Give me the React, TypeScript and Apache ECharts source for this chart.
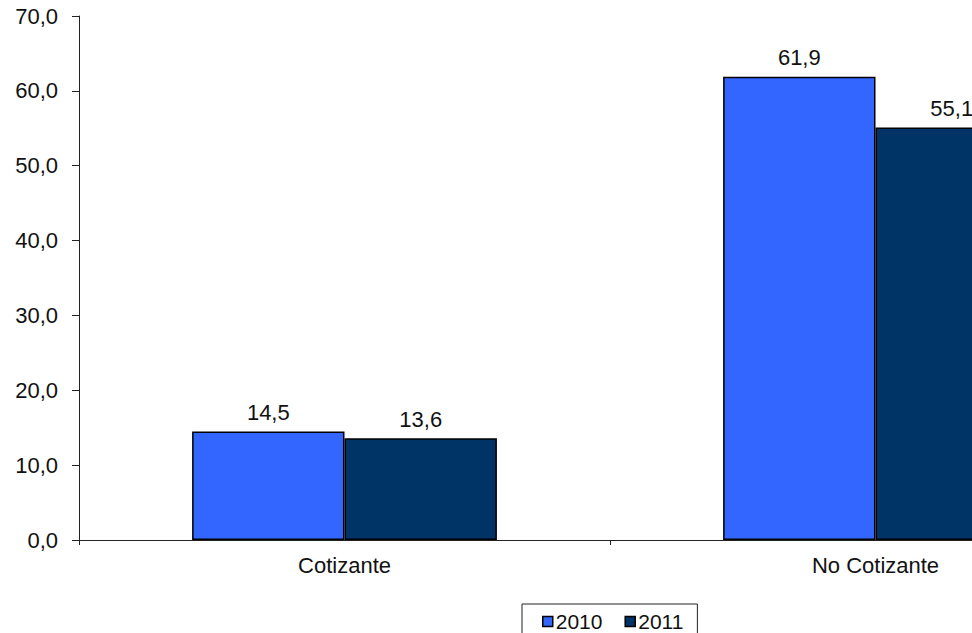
import React, { useEffect, useRef } from "react";
import * as echarts from "echarts";

const categories = ["Cotizante", "No Cotizante"];
const seriesNames = ["2010", "2011"];
const values2010 = [14.5, 61.9];
const values2011 = [13.6, 55.1];
const yTicks = { min: 0, max: 70, interval: 10 };

const fmt = (v: number) => v.toFixed(1).replace(".", ",");
const FONT = "'Liberation Sans', Arial, sans-serif";

export default function App() {
  const ref = useRef<HTMLDivElement>(null);
  useEffect(() => {
    if (!ref.current) return;
    const chart = echarts.init(ref.current, undefined, { renderer: "svg" });
    const labelStyle = {
      show: true,
      position: "top" as const,
      distance: 8,
      color: "#111",
      fontSize: 22,
      fontFamily: FONT,
      formatter: (p: any) => fmt(p.value),
    };
    chart.setOption({
      animation: false,
      backgroundColor: "#fff",
      textStyle: { fontFamily: FONT },
      grid: { left: 79, top: 16, width: 1062, height: 524, containLabel: false },
      legend: {
        left: 522,
        top: 604,
        orient: "horizontal",
        data: seriesNames,
        icon: "rect",
        itemWidth: 10,
        itemHeight: 10,
        itemGap: 22,
        padding: [7, 14, 7, 20],
        borderColor: "#222",
        borderWidth: 1,
        textStyle: { fontSize: 21, color: "#111", fontFamily: FONT, padding: [0, 0, 0, -2] },
        itemStyle: { borderColor: "#000", borderWidth: 1.5 },
      },
      xAxis: {
        type: "category",
        data: categories,
        axisLine: { lineStyle: { color: "#222", width: 1 } },
        axisTick: { show: true, alignWithLabel: false, length: 5, lineStyle: { color: "#222" } },
        axisLabel: { color: "#111", fontSize: 22, fontFamily: FONT, margin: 14 },
      },
      yAxis: {
        type: "value",
        min: yTicks.min,
        max: yTicks.max,
        interval: yTicks.interval,
        splitLine: { show: false },
        axisLine: { show: true, lineStyle: { color: "#222", width: 1 } },
        axisTick: { show: true, length: 7, lineStyle: { color: "#222" } },
        axisLabel: { color: "#111", fontSize: 22, fontFamily: FONT, margin: 21, formatter: (v: number) => fmt(v) },
      },
      series: [
        {
          name: seriesNames[0],
          type: "bar",
          data: values2010,
          barGap: "0%",
          barCategoryGap: "42.6%",
          itemStyle: { color: "#3366FF", borderColor: "#000", borderWidth: 1.5 },
          label: labelStyle,
        },
        {
          name: seriesNames[1],
          type: "bar",
          data: values2011,
          barGap: "0%",
          barCategoryGap: "42.6%",
          itemStyle: { color: "#003366", borderColor: "#000", borderWidth: 1.5 },
          label: labelStyle,
        },
      ],
    });
    return () => chart.dispose();
  }, []);
  return (
    <div style={{ position: "fixed", left: 0, top: 0, width: 972, height: 633, overflow: "hidden", background: "#fff" }}>
      <div ref={ref} style={{ width: 1220, height: 700 }} />
    </div>
  );
}
